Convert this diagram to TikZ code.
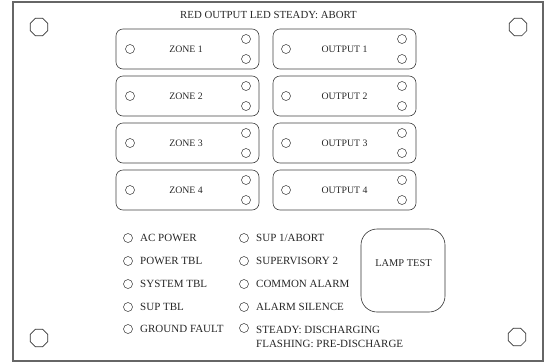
\documentclass[tikz,border=0pt]{standalone}
\usepackage{fontspec}
\setmainfont{Liberation Serif}
\usetikzlibrary{shapes.geometric}
\begin{document}
\begin{tikzpicture}[x=1pt,y=-1pt,
  panel/.style={draw=black!75, line width=0.6pt, rounded corners=7pt, minimum width=143pt, minimum height=40pt, inner sep=0pt},
  led/.style={draw=black!80, line width=0.5pt, circle, minimum size=9pt, inner sep=0pt},
  screw/.style={draw=black!80, line width=0.6pt, regular polygon, regular polygon sides=8, minimum size=19pt, inner sep=0pt},
  lbl/.style={font=\fontsize{9.8pt}{11pt}\selectfont, text=black!85, inner sep=0pt},
  slbl/.style={font=\fontsize{11pt}{13pt}\selectfont, text=black!85, inner sep=0pt, anchor=west}]
\useasboundingbox (0,0) rectangle (545,362);
\node[draw=black!60, line width=1.3pt, minimum width=530pt, minimum height=359pt, inner sep=0pt] (frame) at (278,181.5) {};
% screws
\node[screw] (s1) at (39,27) {};
\node[screw] (s2) at (518,27) {};
\node[screw] (s3) at (39,338) {};
\node[screw] (s4) at (517,337) {};
\node[lbl, font=\fontsize{10.8pt}{12pt}\selectfont] (title) at (268.5,15) {RED OUTPUT LED STEADY: ABORT};
% zone and output panels
\foreach \i/\y in {1/49,2/96,3/143,4/190}{
  \node[panel] (z\i) at (187.5,\y) {};
  \node[lbl] (zt\i) at (186,\y) {ZONE \i};
  \node[led] (zl\i) at (130,\y) {};
  \node[led] (zra\i) at (246,\y-10) {};
  \node[led] (zrb\i) at (246,\y+10) {};
  \node[panel] (o\i) at (344.5,\y) {};
  \node[lbl] (ot\i) at (344.5,\y) {OUTPUT \i};
  \node[led] (ol\i) at (286,\y) {};
  \node[led] (ora\i) at (402,\y-10) {};
  \node[led] (orb\i) at (402,\y+10) {};
}
% status LEDs
\foreach \n/\y/\t in {a/238/{AC POWER}, b/261/{POWER TBL}, c/284/{SYSTEM TBL}, d/307/{SUP TBL}, e/329/{GROUND FAULT}}{
  \node[led] (la\n) at (128,\y) {};
  \node[slbl] (ta\n) at (140,\y) {\t};
}
\foreach \n/\y/\t in {a/238/{SUP 1/ABORT}, b/261/{SUPERVISORY 2}, c/284/{COMMON ALARM}, d/307/{ALARM SILENCE}}{
  \node[led] (lb\n) at (244,\y) {};
  \node[slbl] (tb\n) at (256,\y) {\t};
}
\node[led] (lbe) at (244,328) {};
\node[slbl] (tbe1) at (256,330) {STEADY: DISCHARGING};
\node[slbl] (tbe2) at (256,344) {FLASHING: PRE-DISCHARGE};
% lamp test
\node[draw=black!80, line width=0.6pt, rounded corners=16pt, minimum width=84pt, minimum height=83pt, inner sep=0pt] (lamp) at (403,270.5) {};
\node[lbl, font=\fontsize{10.4pt}{12pt}\selectfont] (lampt) at (403.5,263) {LAMP TEST};
\end{tikzpicture}
\end{document}
